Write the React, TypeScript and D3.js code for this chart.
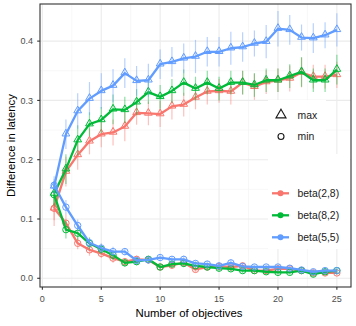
import React, { useEffect, useRef } from 'react';
import * as d3 from 'd3';

// number of objectives (x)
const objectives = [1, 2, 3, 4, 5, 6, 7, 8, 9, 10, 11, 12, 13, 14, 15, 16, 17, 18, 19, 20, 21, 22, 23, 24, 25];

// max (triangles) series
const beta28Max = [0.118, 0.18, 0.208, 0.231, 0.243, 0.246, 0.256, 0.279, 0.278, 0.277, 0.29, 0.293, 0.305, 0.315, 0.316, 0.315, 0.33, 0.323, 0.331, 0.334, 0.337, 0.347, 0.34, 0.34, 0.343];
const beta82Max = [0.143, 0.184, 0.233, 0.26, 0.267, 0.285, 0.284, 0.297, 0.314, 0.306, 0.316, 0.33, 0.32, 0.33, 0.32, 0.33, 0.33, 0.326, 0.334, 0.334, 0.341, 0.348, 0.334, 0.334, 0.352];
const beta55Max = [0.155, 0.243, 0.282, 0.303, 0.316, 0.325, 0.346, 0.333, 0.334, 0.361, 0.365, 0.371, 0.374, 0.382, 0.382, 0.388, 0.39, 0.396, 0.399, 0.421, 0.419, 0.406, 0.405, 0.41, 0.419];

// min (circles) series
const beta28Min = [0.118, 0.093, 0.059, 0.048, 0.042, 0.034, 0.028, 0.032, 0.031, 0.019, 0.022, 0.026, 0.015, 0.019, 0.02, 0.019, 0.021, 0.013, 0.013, 0.016, 0.016, 0.013, 0.009, 0.009, 0.009];
const beta82Min = [0.141, 0.082, 0.076, 0.059, 0.049, 0.039, 0.026, 0.028, 0.032, 0.019, 0.024, 0.025, 0.021, 0.019, 0.017, 0.016, 0.013, 0.013, 0.011, 0.01, 0.01, 0.013, 0.007, 0.011, 0.013];
const beta55Min = [0.157, 0.12, 0.089, 0.06, 0.051, 0.045, 0.045, 0.03, 0.031, 0.035, 0.032, 0.032, 0.025, 0.024, 0.021, 0.026, 0.02, 0.019, 0.019, 0.019, 0.017, 0.014, 0.011, 0.013, 0.013];

// error bar half widths
const beta28MaxErr = [0.03, 0.025, 0.025, 0.022, 0.022, 0.022, 0.025, 0.02, 0.02, 0.022, 0.022, 0.02, 0.02, 0.022, 0.02, 0.022, 0.02, 0.022, 0.02, 0.02, 0.022, 0.025, 0.02, 0.02, 0.022];
const beta82MaxErr = [0.02, 0.025, 0.025, 0.02, 0.022, 0.025, 0.022, 0.022, 0.02, 0.02, 0.02, 0.022, 0.02, 0.02, 0.02, 0.02, 0.02, 0.02, 0.02, 0.02, 0.02, 0.025, 0.02, 0.02, 0.025];
const beta55MaxErr = [0.012, 0.025, 0.03, 0.028, 0.03, 0.028, 0.025, 0.025, 0.028, 0.025, 0.025, 0.025, 0.028, 0.025, 0.025, 0.028, 0.025, 0.022, 0.028, 0.03, 0.025, 0.022, 0.025, 0.022, 0.028];
const beta28MinErr = [0.02, 0.015, 0.01, 0.01, 0.008, 0.008, 0.006, 0.006, 0.006, 0.005, 0.005, 0.006, 0.005, 0.005, 0.005, 0.005, 0.005, 0.004, 0.004, 0.004, 0.004, 0.004, 0.004, 0.004, 0.004];
const beta82MinErr = [0.02, 0.015, 0.012, 0.01, 0.008, 0.008, 0.006, 0.006, 0.006, 0.005, 0.005, 0.005, 0.005, 0.005, 0.005, 0.004, 0.004, 0.004, 0.004, 0.004, 0.004, 0.004, 0.004, 0.004, 0.004];
const beta55MinErr = [0.015, 0.012, 0.01, 0.008, 0.008, 0.008, 0.006, 0.006, 0.006, 0.006, 0.005, 0.006, 0.005, 0.005, 0.005, 0.006, 0.005, 0.004, 0.004, 0.004, 0.004, 0.004, 0.004, 0.004, 0.004];

const seriesNames = ['beta(2,8)', 'beta(8,2)', 'beta(5,5)'];
const seriesColors = ['#F8766D', '#00BA38', '#619CFF'];
const typeNames = ['max', 'min'];

const xTicks = [0, 5, 10, 15, 20, 25];
const yTicks = [0, 0.1, 0.2, 0.3, 0.4];
const xMinor = [2.5, 7.5, 12.5, 17.5, 22.5];
const yMinor = [0.05, 0.15, 0.25, 0.35];

const xDomain = [-0.2, 26.2];
const yDomain = [-0.0147, 0.4626];

export default function App() {
  const ref = useRef<SVGSVGElement>(null);

  useEffect(() => {
    const svg = d3.select(ref.current);
    svg.selectAll('*').remove();

    const width = 356;
    const height = 326;
    const panel = { left: 40, right: 351, top: 4, bottom: 287 };
    const font = 'Liberation Sans, Arial, Helvetica, sans-serif';

    const x = d3.scaleLinear().domain(xDomain).range([panel.left, panel.right]);
    const y = d3.scaleLinear().domain(yDomain).range([panel.bottom, panel.top]);

    svg.attr('width', width).attr('height', height);

    svg.append('rect')
      .attr('width', width)
      .attr('height', height)
      .attr('fill', 'white');

    // grid
    const grid = svg.append('g');
    grid.selectAll('.xminor').data(xMinor).enter().append('line')
      .attr('x1', d => x(d)).attr('x2', d => x(d))
      .attr('y1', panel.top).attr('y2', panel.bottom)
      .attr('stroke', '#F2F2F2').attr('stroke-width', 0.6);
    grid.selectAll('.yminor').data(yMinor).enter().append('line')
      .attr('y1', d => y(d)).attr('y2', d => y(d))
      .attr('x1', panel.left).attr('x2', panel.right)
      .attr('stroke', '#F2F2F2').attr('stroke-width', 0.6);
    grid.selectAll('.xmajor').data(xTicks).enter().append('line')
      .attr('x1', d => x(d)).attr('x2', d => x(d))
      .attr('y1', panel.top).attr('y2', panel.bottom)
      .attr('stroke', '#EBEBEB').attr('stroke-width', 1.1);
    grid.selectAll('.ymajor').data(yTicks).enter().append('line')
      .attr('y1', d => y(d)).attr('y2', d => y(d))
      .attr('x1', panel.left).attr('x2', panel.right)
      .attr('stroke', '#EBEBEB').attr('stroke-width', 1.1);

    const maxSeries = [beta28Max, beta82Max, beta55Max];
    const minSeries = [beta28Min, beta82Min, beta55Min];
    const maxErr = [beta28MaxErr, beta82MaxErr, beta55MaxErr];
    const minErr = [beta28MinErr, beta82MinErr, beta55MinErr];

    const line = d3.line<number>()
      .x((d, i) => x(objectives[i]))
      .y(d => y(d));

    const triangle = d3.symbol().type(d3.symbolTriangle).size(26);

    const plot = svg.append('g');
    seriesNames.forEach((name, s) => {
      const color = seriesColors[s];
      [maxSeries[s], minSeries[s]].forEach((vals, t) => {
        const errs = t === 0 ? maxErr[s] : minErr[s];
        const g = plot.append('g');
        // error bars
        g.selectAll('line.err').data(vals).enter().append('line')
          .attr('x1', (d, i) => x(objectives[i]))
          .attr('x2', (d, i) => x(objectives[i]))
          .attr('y1', (d, i) => y(d - errs[i]))
          .attr('y2', (d, i) => y(d + errs[i]))
          .attr('stroke', color)
          .attr('stroke-opacity', 0.45)
          .attr('stroke-width', 1.2);
        g.append('path')
          .attr('d', line(vals))
          .attr('fill', 'none')
          .attr('stroke', color)
          .attr('stroke-width', 2.3)
          .attr('stroke-linejoin', 'round');
        if (t === 0) {
          g.selectAll('path.pt').data(vals).enter().append('path')
            .attr('d', triangle)
            .attr('transform', (d, i) => `translate(${x(objectives[i])},${y(d) - 0.5})`)
            .attr('fill', 'none')
            .attr('stroke', color)
            .attr('stroke-width', 1);
        } else {
          g.selectAll('circle.pt').data(vals).enter().append('circle')
            .attr('cx', (d, i) => x(objectives[i]))
            .attr('cy', d => y(d))
            .attr('r', 3.2)
            .attr('fill', 'none')
            .attr('stroke', color)
            .attr('stroke-width', 1);
        }
      });
    });

    // legends
    const legend = svg.append('g').attr('font-family', font).attr('font-size', 10.4).attr('fill', '#1A1A1A');
    legend.append('rect').attr('x', 268).attr('y', 100).attr('width', 58).attr('height', 54).attr('fill', 'white');
    legend.append('rect').attr('x', 268).attr('y', 154).attr('width', 82).attr('height', 95).attr('fill', 'white');

    typeNames.forEach((name, i) => {
      const cy = 115 + i * 21.5;
      if (i === 0) {
        legend.append('path')
          .attr('d', d3.symbol().type(d3.symbolTriangle).size(44)())
          .attr('transform', `translate(281,${cy})`)
          .attr('fill', 'none').attr('stroke', '#1A1A1A').attr('stroke-width', 1.1);
      } else {
        legend.append('circle').attr('cx', 281).attr('cy', cy).attr('r', 3)
          .attr('fill', 'none').attr('stroke', '#1A1A1A').attr('stroke-width', 1.1);
      }
      legend.append('text').attr('x', 297.5).attr('y', cy + 3.7).text(name);
    });

    seriesNames.forEach((name, i) => {
      const cy = 193.3 + i * 22;
      legend.append('line')
        .attr('x1', 272).attr('x2', 289).attr('y1', cy).attr('y2', cy)
        .attr('stroke', seriesColors[i]).attr('stroke-width', 2.3);
      legend.append('circle').attr('cx', 280.5).attr('cy', cy).attr('r', 3)
        .attr('fill', seriesColors[i]);
      legend.append('text').attr('x', 297.5).attr('y', cy + 3.7).text(name);
    });

    // panel border
    svg.append('rect')
      .attr('x', panel.left).attr('y', panel.top)
      .attr('width', panel.right - panel.left).attr('height', panel.bottom - panel.top)
      .attr('fill', 'none').attr('stroke', '#333333').attr('stroke-width', 1.1);

    // axes
    const axes = svg.append('g').attr('font-family', font).attr('font-size', 9).attr('fill', '#4D4D4D');
    xTicks.forEach(t => {
      axes.append('line').attr('x1', x(t)).attr('x2', x(t))
        .attr('y1', panel.bottom).attr('y2', panel.bottom + 2.8)
        .attr('stroke', '#333333').attr('stroke-width', 1.1);
      axes.append('text').attr('x', x(t)).attr('y', 301.8)
        .attr('text-anchor', 'middle').text(d3.format('d')(t));
    });
    yTicks.forEach(t => {
      axes.append('line').attr('x1', panel.left - 2.8).attr('x2', panel.left)
        .attr('y1', y(t)).attr('y2', y(t))
        .attr('stroke', '#333333').attr('stroke-width', 1.1);
      axes.append('text').attr('x', 33).attr('y', y(t) + 3.2)
        .attr('text-anchor', 'end').text(d3.format('.1f')(t));
    });

    svg.append('text')
      .attr('x', 189).attr('y', 317)
      .attr('text-anchor', 'middle')
      .attr('font-family', font).attr('font-size', 11.4).attr('fill', '#000')
      .text('Number of objectives');

    svg.append('text')
      .attr('transform', `translate(15,145.5) rotate(-90)`)
      .attr('text-anchor', 'middle')
      .attr('font-family', font).attr('font-size', 11.4).attr('fill', '#000')
      .text('Difference in latency');
  }, []);

  return (
    <svg ref={ref} style={{ position: 'absolute', left: 0, top: 0, display: 'block' }} />
  );
}
